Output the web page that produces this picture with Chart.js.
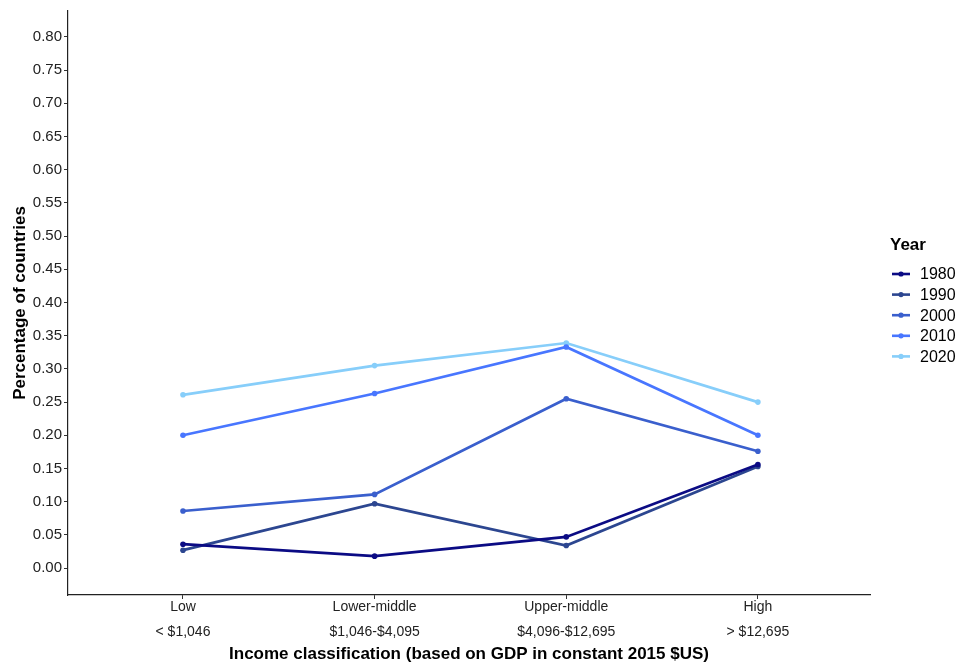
<!DOCTYPE html>
<html>
<head>
<meta charset="utf-8">
<script src="https://cdn.jsdelivr.net/npm/chart.js@4.4.1/dist/chart.umd.min.js"></script>
<style>
  html, body { margin: 0; padding: 0; background: #fff; }
  canvas { display: block; }
</style>
</head>
<body>
<canvas id="chart" width="961" height="667"></canvas>
<script>
// Einkommensklassen und Anteile je Jahr
const categories = ["Low", "Lower-middle", "Upper-middle", "High"];
const ranges = ["< $1,046", "$1,046-$4,095", "$4,096-$12,695", "> $12,695"];
const years = ["1980", "1990", "2000", "2010", "2020"];
const colors = ["#0b0b84", "#2c4690", "#3a5fcd", "#4876ff", "#87cefa"];

const v1980 = [0.036, 0.018, 0.047, 0.156];
const v1990 = [0.027, 0.097, 0.034, 0.153];
const v2000 = [0.086, 0.111, 0.255, 0.176];
const v2010 = [0.200, 0.263, 0.333, 0.200];
const v2020 = [0.261, 0.305, 0.339, 0.250];
const series = [v1980, v1990, v2000, v2010, v2020];

const yTicks = [0, 0.05, 0.10, 0.15, 0.20, 0.25, 0.30, 0.35, 0.40, 0.45, 0.50, 0.55, 0.60, 0.65, 0.70, 0.75, 0.80];

const datasets = series.map((vals, i) => ({
	label: years[i],
	data: vals.map((v, j) => ({ x: j, y: v })),
	borderColor: colors[i],
	backgroundColor: colors[i],
	borderWidth: 2.7,
	pointRadius: 2.8,
	pointHoverRadius: 2.8,
	pointBorderWidth: 0,
	tension: 0
}));

// Legende rechts, wie bei ggplot
const legendPlugin = {
	id: "yearLegend",
	afterDraw(chart) {
		const ctx = chart.ctx;
		ctx.save();
		ctx.fillStyle = "#000";
		ctx.font = "bold 17px 'Liberation Sans', Arial, sans-serif";
		ctx.textBaseline = "middle";
		ctx.textAlign = "left";
		ctx.fillText("Year", 890, 245);
		ctx.font = "16px 'Liberation Sans', Arial, sans-serif";
		years.forEach((y, i) => {
			const cy = 274 + i * 20.6;
			ctx.strokeStyle = colors[i];
			ctx.lineWidth = 2.6;
			ctx.beginPath();
			ctx.moveTo(892, cy);
			ctx.lineTo(910, cy);
			ctx.stroke();
			ctx.fillStyle = colors[i];
			ctx.beginPath();
			ctx.arc(901, cy, 2.6, 0, Math.PI * 2);
			ctx.fill();
			ctx.fillStyle = "#000";
			ctx.fillText(y, 920, cy + 1);
		});
		ctx.restore();
	}
};

new Chart(document.getElementById("chart").getContext("2d"), {
	type: "line",
	data: { datasets: datasets },
	plugins: [legendPlugin],
	options: {
		responsive: false,
		animation: false,
		layout: { padding: { top: 8, right: 91, left: 0, bottom: 0 } },
		plugins: {
			legend: { display: false },
			tooltip: { enabled: false }
		},
		scales: {
			x: {
				type: "linear",
				min: -0.6,
				max: 3.585,
				afterBuildTicks: scale => {
					scale.ticks = categories.map((c, i) => ({ value: i }));
				},
				afterFit: scale => { scale.height = 72; },
				ticks: {
					autoSkip: false,
					maxRotation: 0,
					padding: -4,
					color: "#222",
					font: { family: "'Liberation Sans', Arial, sans-serif", size: 14, lineHeight: "25px" },
					callback: value => [categories[value], ranges[value]]
				},
				grid: { drawOnChartArea: false, drawTicks: true, tickLength: 4, tickColor: "#333" },
				border: { display: true, color: "#222", width: 1.2 },
				title: {
					display: true,
					text: "Income classification (based on GDP in constant 2015 $US)",
					color: "#000",
					padding: { top: 0, bottom: 2 },
					font: { family: "'Liberation Sans', Arial, sans-serif", size: 17, weight: "bold" }
				}
			},
			y: {
				type: "linear",
				min: -0.0405,
				max: 0.839,
				afterBuildTicks: scale => {
					scale.ticks = yTicks.map(v => ({ value: v }));
				},
				afterFit: scale => { scale.width = 68; },
				ticks: {
					padding: 2,
					color: "#222",
					font: { family: "'Liberation Sans', Arial, sans-serif", size: 15 },
					callback: value => value.toFixed(2)
				},
				grid: { drawOnChartArea: false, drawTicks: true, tickLength: 4, tickColor: "#333" },
				border: { display: true, color: "#222", width: 1.2 },
				title: {
					display: true,
					text: "Percentage of countries",
					color: "#000",
					padding: { top: 10, bottom: 0 },
					font: { family: "'Liberation Sans', Arial, sans-serif", size: 17, weight: "bold" }
				}
			}
		}
	}
});
</script>
</body>
</html>
